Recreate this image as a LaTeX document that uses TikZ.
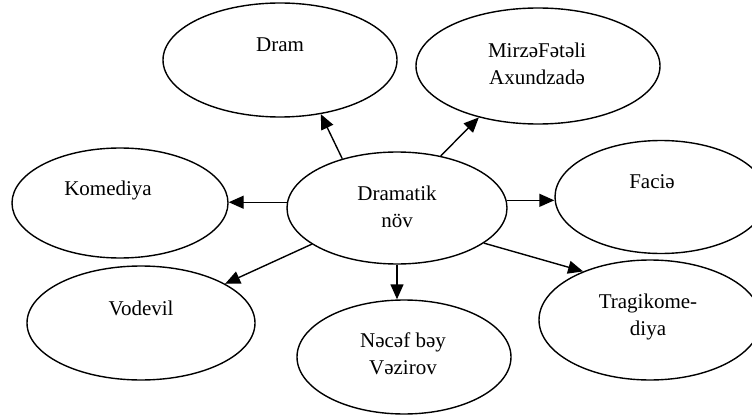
\documentclass[tikz,border=0pt]{standalone}
\usepackage{fontspec}
\setmainfont{Liberation Serif}
\usetikzlibrary{shapes.geometric,arrows.meta}
\tikzset{
  oval/.style={draw=black, ellipse, line width=1.4pt, inner sep=0pt},
  lbl/.style={inner sep=0pt, align=center, font=\fontsize{21}{27}\selectfont},
  conn/.style={line width=1.4pt, -{Triangle[length=15pt,width=13pt]}}
}
\begin{document}
\begin{tikzpicture}[x=1pt,y=-1pt]
\useasboundingbox (0,0) rectangle (752,417);
\begin{scope}
\clip (0,0) rectangle (752,417);
% ellipses
\node[oval, minimum width=234pt, minimum height=114pt] (dram) at (280,60) {};
\node[oval, minimum width=244pt, minimum height=116pt] (mirza) at (538,66) {};
\node[oval, minimum width=216pt, minimum height=110pt] (kom) at (120,203) {};
\node[oval, minimum width=220pt, minimum height=112pt] (dn) at (397,208) {};
\node[oval, minimum width=212pt, minimum height=113pt] (facie) at (661,197) {};
\node[oval, minimum width=222pt, minimum height=120pt] (trag) at (650,320) {};
\node[oval, minimum width=228pt, minimum height=114pt] (vod) at (141,323) {};
\node[oval, minimum width=214pt, minimum height=114pt] (nacaf) at (404,357) {};
\end{scope}
% labels
\node[lbl] (tdram) at (280,45) {Dram};
\node[lbl] (tmirza) at (537,63.5) {MirzəFətəli\\Axundzadə};
\node[lbl] (tkom) at (108,190) {Komediya};
\node[lbl] (tdn) at (397,206.5) {Dramatik\\növ};
\node[lbl] (tfacie) at (652,182) {Faciə};
\node[lbl] (ttrag) at (648,316.5) {Tragikome-\\diya};
\node[lbl] (tvod) at (141,308) {Vodevil};
\node[lbl] (tnacaf) at (403,353.5) {Nəcəf bəy\\Vəzirov};
% connectors
\draw[conn] (dn.138) -- (dram.-53);
\draw[conn] (dn.50) -- (mirza.221);
\draw[conn] (dn.177) -- (dn.177 -| kom.east);
\draw[conn] (dn.4) -- (dn.4 -| facie.west);
\draw[conn] (dn.203) -- (vod.25);
\draw[conn] (dn.south) -- (dn.south |- nacaf.north);
\draw[conn] (dn.-22) -- (trag.144);
\end{tikzpicture}
\end{document}
